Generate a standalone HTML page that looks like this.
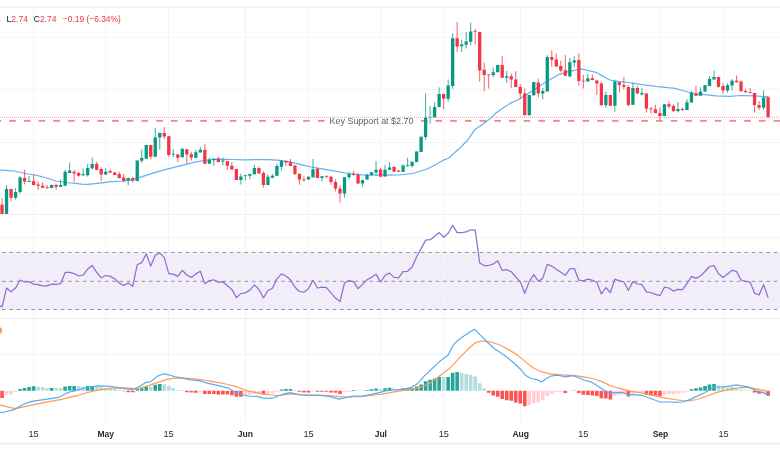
<!DOCTYPE html>
<html><head><meta charset="utf-8"><title>Chart</title>
<style>html,body{margin:0;padding:0;background:#fff;}body{width:780px;height:470px;overflow:hidden;}svg{display:block;}</style>
</head><body>
<svg width="780" height="470" viewBox="0 0 780 470">
<rect width="780" height="470" fill="#fff"/>
<rect x="0" y="252.4" width="780" height="57.1" fill="#f2eef9"/>
<g fill="#f2f4f8">
<rect x="33.1" y="7" width="1" height="415"/>
<rect x="105.2" y="7" width="1" height="415"/>
<rect x="168.1" y="7" width="1" height="415"/>
<rect x="244.9" y="7" width="1" height="415"/>
<rect x="308" y="7" width="1" height="415"/>
<rect x="380.3" y="7" width="1" height="415"/>
<rect x="443.3" y="7" width="1" height="415"/>
<rect x="520.2" y="7" width="1" height="415"/>
<rect x="582.8" y="7" width="1" height="415"/>
<rect x="660" y="7" width="1" height="415"/>
<rect x="723" y="7" width="1" height="415"/>
<rect x="0" y="36.7" width="780" height="1"/>
<rect x="0" y="88.8" width="780" height="1"/>
<rect x="0" y="142" width="780" height="1"/>
<rect x="0" y="194" width="780" height="1"/>
<rect x="0" y="237.1" width="780" height="1"/>
<rect x="0" y="265.6" width="780" height="1"/>
<rect x="0" y="294.8" width="780" height="1"/>
<rect x="0" y="354" width="780" height="1"/>
</g>
<rect x="0" y="6.3" width="780" height="1.5" fill="#eceef2"/>
<rect x="0" y="214" width="780" height="1" fill="#eeedf4"/>
<rect x="0" y="318.1" width="780" height="1" fill="#eeedf4"/>
<rect x="0" y="443.3" width="780" height="1" fill="#e0e3eb"/>
<line x1="0" y1="252.4" x2="780" y2="252.4" stroke="#8c8f99" stroke-width="1" stroke-dasharray="3.5 3.85" stroke-dashoffset="-2"/>
<line x1="0" y1="281.3" x2="780" y2="281.3" stroke="#8c8f99" stroke-width="1" stroke-dasharray="3.5 3.85" stroke-dashoffset="-2"/>
<line x1="0" y1="309.5" x2="780" y2="309.5" stroke="#8c8f99" stroke-width="1" stroke-dasharray="3.5 3.85" stroke-dashoffset="-2"/>
<defs><clipPath id="pp"><rect x="0" y="7" width="780" height="207"/></clipPath></defs>
<g clip-path="url(#pp)">
<line x1="0" y1="120.9" x2="325" y2="120.9" stroke="#f7838e" stroke-width="1.6" stroke-dasharray="6.6 8.1" stroke-dashoffset="5.5"/>
<line x1="416" y1="120.9" x2="780" y2="120.9" stroke="#f7838e" stroke-width="1.6" stroke-dasharray="6.6 8.1" stroke-dashoffset="421.5"/>
<polyline points="0,170 5.6,170.4 14,171 28,174 35,175 42,176.7 49,178.8 56,181 63,182 70,183 74,183.2 81,184.2 88,184.4 95,183.7 102,182.8 109,181.9 116,181.4 123,181 130,180.2 139,177.6 153,173.1 167,169.2 181,165.7 195,162.2 204,160.6 211,159.5 218,159.2 232,159.5 246,159.9 255,159.7 269,159.7 280,160.4 290,161.8 297,163.6 304,165.3 311,167 318,168.1 325,169.4 334,170.9 348,173.5 362,174.9 376,175.1 390,175.1 399,175 413,173.5 427,169 436,164.5 442.8,160.4 448.4,158.3 454,153.3 461,147 468,139.7 475,129.4 482,124.8 489,119.6 496,113 503,107.9 510,103.4 519,99.3 533,90.4 547,81.2 558,74.9 568,71.6 579,69.5 582,69.2 596,72.3 600,74.6 610,80 614,80.8 628,82.5 642,84.6 656,86.4 670,87.8 674,88.1 688,92 695,93.7 702,94.4 716,95.8 730,96.3 740,95.5 754,95.8 768,96.8" fill="none" stroke="#5fb2f5" stroke-width="1.2" stroke-linejoin="round"/>
<path d="M6.56 185.1V214M15.58 188V199.5M20.08 176V193.6M29.09 176V182M51.62 184.5V188.3M60.64 179.5V187M65.14 169.7V186M69.65 162.7V173.2M83.17 168.3V175.5M87.67 163.8V176.7M92.18 157.5V169.7M105.7 167.9V175M128.23 177.5V185.4M137.24 160.3V181.3M141.74 149.5V162.9M146.25 144.8V159M155.26 127.7V157M159.77 132.5V149.5M173.29 149.2V157.3M182.3 148.5V157.5M195.82 149.7V158M200.32 147.1V152.7M209.33 157.4V164M213.84 158.5V165.8M222.85 157.4V165.1M240.88 173.6V184.5M245.38 175V180.6M249.89 173.7V179.2M254.39 164.9V174.5M267.91 174.4V185.2M272.42 174V177.9M276.92 163.6V176M281.43 160.6V170.6M308.47 176.6V179.8M312.97 159V177.5M321.98 176.1V181.5M344.51 177.1V197.6M349.02 171.6V179.6M362.54 179.9V186.4M367.04 173.5V179.8M371.55 172.1V175.3M376.06 161.1V175.4M385.07 165V176.7M389.57 162.3V169.9M403.09 164.1V172M407.6 157.8V166.4M412.1 161.5V167.6M416.61 151.3V162.2M421.12 136.5V152.1M425.62 93.5V139.8M430.13 106.1V123.6M434.63 102.2V117.6M439.14 87.4V107.3M448.15 79.4V101.9M452.66 33.3V88.8M461.67 39.6V51.8M466.18 32.1V48.5M470.68 22.7V45.2M493.21 67.4V77.3M497.72 64.8V72.5M506.73 70.9V82.9M529.26 94.8V116.1M533.77 81.8V95.5M542.78 88V99.5M547.28 55.2V91.6M569.81 58V77.7M574.32 56.2V67.4M587.84 73.7V81.7M605.86 91.6V107.8M614.87 79.7V111.7M632.9 82.5V104.9M641.91 87.8V95.2M664.44 104.1V116.2M677.96 101.9V112.3M686.97 99.1V110.1M691.48 90.9V102.7M700.49 87.4V96M704.99 85.1V91.8M709.5 76.2V86.2M714.01 70.5V79.6M727.52 83.5V92.6M732.03 79V90.6M763.57 90.2V109.9" stroke="#089981" stroke-width="0.8" fill="none"/>
<path d="M4.91 189.1h3.3v24.9h-3.3zM13.93 191.9h3.3v5.9h-3.3zM18.43 177.4h3.3v14.5h-3.3zM27.44 180.9h3.3v1.1h-3.3zM49.97 185.1h3.3v2.9h-3.3zM58.99 185.1h3.3v1.7h-3.3zM63.49 171.8h3.3v14h-3.3zM68 170.5h3.3v2.5h-3.3zM81.52 173.9h3.3v1.4h-3.3zM86.02 167.9h3.3v7.4h-3.3zM90.53 164h3.3v4.3h-3.3zM104.05 171.8h3.3v2.8h-3.3zM126.58 177.9h3.3v2.3h-3.3zM135.59 160.5h3.3v20.6h-3.3zM140.09 158h3.3v2.8h-3.3zM144.6 145h3.3v13.7h-3.3zM153.61 137.6h3.3v19.2h-3.3zM158.12 132.9h3.3v4.7h-3.3zM171.64 153.7h3.3v0.8h-3.3zM180.65 148.8h3.3v8.5h-3.3zM194.17 152.2h3.3v5.6h-3.3zM198.67 149.7h3.3v2.8h-3.3zM207.68 159.8h3.3v3.9h-3.3zM212.19 158.8h3.3v1.4h-3.3zM221.2 160.6h3.3v1h-3.3zM239.23 176.4h3.3v3.5h-3.3zM243.73 175.3h3.3v0.8h-3.3zM248.24 173.9h3.3v1.8h-3.3zM252.74 168h3.3v6.3h-3.3zM266.26 176.8h3.3v8.2h-3.3zM270.77 175.8h3.3v1.9h-3.3zM275.27 166h3.3v9.8h-3.3zM279.78 160.8h3.3v5.9h-3.3zM306.82 176.8h3.3v2.8h-3.3zM311.32 169.2h3.3v8.1h-3.3zM320.33 176.3h3.3v1.7h-3.3zM342.86 177.3h3.3v16.1h-3.3zM347.37 174h3.3v3.3h-3.3zM360.89 180.1h3.3v3.5h-3.3zM365.39 175.1h3.3v4.5h-3.3zM369.9 172.3h3.3v2.8h-3.3zM374.41 169.8h3.3v2.8h-3.3zM383.42 169.8h3.3v6.7h-3.3zM387.92 167.6h3.3v2.1h-3.3zM401.44 165.5h3.3v6.3h-3.3zM405.95 165.3h3.3v0.9h-3.3zM410.45 161.7h3.3v4.3h-3.3zM414.96 151.5h3.3v10.5h-3.3zM419.47 136.7h3.3v15.2h-3.3zM423.97 117.6h3.3v19.4h-3.3zM428.48 117h3.3v0.8h-3.3zM432.98 107.1h3.3v10.3h-3.3zM437.49 94h3.3v13.1h-3.3zM446.5 85.6h3.3v13.1h-3.3zM451.01 38.2h3.3v47.8h-3.3zM460.02 44.5h3.3v1.7h-3.3zM464.53 41.4h3.3v3.4h-3.3zM469.03 31.6h3.3v10.1h-3.3zM491.56 72.3h3.3v2.8h-3.3zM496.07 65h3.3v7.3h-3.3zM505.08 76.3h3.3v1.4h-3.3zM527.61 95h3.3v20h-3.3zM532.12 82h3.3v13.3h-3.3zM541.13 91.1h3.3v2.5h-3.3zM545.63 56.9h3.3v34.5h-3.3zM568.16 62.2h3.3v14.1h-3.3zM572.67 60.4h3.3v2.1h-3.3zM586.19 78.2h3.3v3.3h-3.3zM604.21 95.1h3.3v10.2h-3.3zM613.22 81.8h3.3v23.9h-3.3zM631.25 88.1h3.3v16.6h-3.3zM640.26 93h3.3v1.4h-3.3zM662.79 104.3h3.3v11.7h-3.3zM676.31 108.9h3.3v2h-3.3zM685.32 102.2h3.3v7.7h-3.3zM689.83 93h3.3v9.5h-3.3zM698.84 91.6h3.3v4.2h-3.3zM703.34 85.3h3.3v6.3h-3.3zM707.85 79h3.3v7h-3.3zM712.36 76.9h3.3v2.5h-3.3zM725.87 85.3h3.3v5.3h-3.3zM730.38 80.8h3.3v4.8h-3.3zM761.92 97.6h3.3v10.2h-3.3z" fill="#089981"/>
<path d="M2.06 197.8V214M11.07 189.1V201.3M24.59 169.7V184.4M33.6 174.6V185.5M38.11 181.6V190M42.61 182.3V188M47.12 185V189M56.13 183.7V189.6M74.15 170V181.6M78.66 171.8V176.7M96.68 161.7V170.4M101.19 167.3V180.9M110.2 169.3V173.5M114.71 171.8V175.4M119.21 171.8V178.5M123.72 173.9V182.8M132.73 177V182.5M150.76 144.8V159.4M164.27 127V139M168.78 136V156.8M177.79 154V161.9M186.8 149V163.9M191.31 151.7V160.5M204.83 144.1V164M218.35 156.7V162.3M227.36 161V170M231.86 162V169.6M236.37 168.8V180.1M258.9 166.4V173.7M263.41 171.2V187.5M285.94 160.4V166M290.44 159V166.2M294.95 165.4V175.1M299.45 173.5V184.7M303.96 176.3V181.9M317.48 168.1V178.2M326.49 175.2V178.2M331 175.8V184.7M335.5 179.4V191.3M340.01 185.3V202.6M353.53 170.6V175.8M358.03 172.6V183.8M380.56 168.1V177M394.08 166V172M398.59 169.7V172M443.65 93.8V109.2M457.16 22V51.8M475.19 29V44.5M479.69 31.7V81.8M484.2 62.5V91.3M488.71 74.2V88.5M502.22 56.2V77.9M511.24 73.5V87.8M515.74 71.2V87.3M520.25 84V99.2M524.75 88.3V116.1M538.27 78.7V97.4M551.79 50.5V67M556.3 53.4V66.6M560.8 60.8V72.3M565.31 55.2V76M578.83 53.4V85.7M583.33 75.1V88.5M592.34 74.4V80.3M596.85 80.3V95.1M601.36 81.9V105.5M610.37 94.9V105.9M619.38 82V92.6M623.89 77.1V89.5M628.39 85.3V106.4M637.4 86V93.7M646.42 93.3V112.7M650.92 107.1V113.4M655.43 104.7V113.3M659.93 107.5V120.4M668.95 101.5V108.5M673.45 104.3V111.5M682.46 107.8V110.9M695.98 86V96M718.51 76.7V87.8M723.02 83.2V93.7M736.54 75.5V82.4M741.04 80.4V91.4M745.55 88.8V92.5M750.05 88.1V93.7M754.56 92.8V112.7M759.07 101V109.9M768.08 95.8V117.5" stroke="#f23645" stroke-width="0.8" fill="none"/>
<path d="M0.41 204.8h3.3v9.2h-3.3zM9.42 189.1h3.3v8.7h-3.3zM22.94 178.1h3.3v3.5h-3.3zM31.95 181.2h3.3v3.9h-3.3zM36.46 184.4h3.3v1.4h-3.3zM40.96 185.8h3.3v1.9h-3.3zM45.47 187.3h3.3v0.8h-3.3zM54.48 184.9h3.3v1.9h-3.3zM72.5 171.8h3.3v1.7h-3.3zM77.01 172.9h3.3v2.8h-3.3zM95.03 164h3.3v5.7h-3.3zM99.54 169h3.3v5.6h-3.3zM108.55 171h3.3v1.5h-3.3zM113.06 172.5h3.3v2.4h-3.3zM117.56 173.9h3.3v4.2h-3.3zM122.07 177.4h3.3v3.5h-3.3zM131.08 178.3h3.3v2.4h-3.3zM149.11 145h3.3v11.8h-3.3zM162.62 132.9h3.3v3.7h-3.3zM167.13 136.2h3.3v18.7h-3.3zM176.14 154.4h3.3v3.3h-3.3zM185.15 149.2h3.3v5.2h-3.3zM189.66 154.3h3.3v3.1h-3.3zM203.18 149.7h3.3v14h-3.3zM216.7 158.4h3.3v3.6h-3.3zM225.71 161.2h3.3v4.6h-3.3zM230.21 165.8h3.3v3.6h-3.3zM234.72 169.1h3.3v10.8h-3.3zM257.25 168.1h3.3v5.4h-3.3zM261.76 173h3.3v12h-3.3zM284.29 161.1h3.3v1.4h-3.3zM288.79 162.2h3.3v3.8h-3.3zM293.3 165.6h3.3v8.4h-3.3zM297.8 173.7h3.3v5.7h-3.3zM302.31 179.4h3.3v0.8h-3.3zM315.83 168.8h3.3v9.2h-3.3zM324.84 176.3h3.3v0.8h-3.3zM329.35 176.8h3.3v5.1h-3.3zM333.85 181.9h3.3v6.6h-3.3zM338.36 188.5h3.3v4.9h-3.3zM351.88 173.7h3.3v1.2h-3.3zM356.38 174.9h3.3v8.7h-3.3zM378.91 169.5h3.3v7.3h-3.3zM392.43 166.9h3.3v4.9h-3.3zM396.94 170.7h3.3v1.1h-3.3zM442 94h3.3v4.7h-3.3zM455.51 38.2h3.3v8.4h-3.3zM473.54 31.2h3.3v0.8h-3.3zM478.04 31.9h3.3v38.6h-3.3zM482.55 69.8h3.3v5.2h-3.3zM487.06 74.4h3.3v0.8h-3.3zM500.57 65h3.3v12.7h-3.3zM509.59 76.3h3.3v3.1h-3.3zM514.09 79.6h3.3v7.5h-3.3zM518.6 87.1h3.3v6.5h-3.3zM523.1 93.6h3.3v21.4h-3.3zM536.62 82.4h3.3v11.2h-3.3zM550.14 57.1h3.3v2.6h-3.3zM554.65 59.4h3.3v7h-3.3zM559.15 66h3.3v4.6h-3.3zM563.66 70.2h3.3v5.6h-3.3zM577.18 60h3.3v21h-3.3zM581.68 80.8h3.3v0.8h-3.3zM590.69 78.2h3.3v1.9h-3.3zM595.2 80.5h3.3v3.1h-3.3zM599.71 83.5h3.3v21.8h-3.3zM608.72 95.1h3.3v10.6h-3.3zM617.73 82.2h3.3v2.8h-3.3zM622.24 85h3.3v1.7h-3.3zM626.74 87h3.3v18h-3.3zM635.75 88.1h3.3v5.4h-3.3zM644.77 93.5h3.3v15h-3.3zM649.27 108.5h3.3v0.8h-3.3zM653.78 109.2h3.3v3.9h-3.3zM658.28 113.1h3.3v2.9h-3.3zM667.3 104.3h3.3v2.1h-3.3zM671.8 106.1h3.3v5.2h-3.3zM680.81 108.9h3.3v1h-3.3zM694.33 93.5h3.3v2.3h-3.3zM716.86 76.9h3.3v9.8h-3.3zM721.37 86h3.3v4.6h-3.3zM734.89 80.8h3.3v1.4h-3.3zM739.39 81.4h3.3v9.8h-3.3zM743.9 90.9h3.3v1.4h-3.3zM748.4 92h3.3v0.8h-3.3zM752.91 93h3.3v12h-3.3zM757.42 105h3.3v2.8h-3.3zM766.43 97.2h3.3v20.1h-3.3z" fill="#f23645"/>
<line x1="0" y1="117.3" x2="780" y2="117.3" stroke="#f7a0a8" stroke-width="1" stroke-dasharray="1 1"/>
</g>
<text x="329.6" y="124.2" font-family="Liberation Sans, sans-serif" font-size="9.4" fill="#5d606b" textLength="83.8" lengthAdjust="spacingAndGlyphs">Key Support at $2.70</text>
<polyline points="0,305.7 2.06,307 6.56,288 11.07,291.8 15.58,288 20.08,280.2 24.59,282 29.09,281.6 33.6,284.1 38.11,284.6 42.61,285.8 47.12,285.8 51.62,284.2 56.13,284.4 60.64,283.7 65.14,272.4 69.65,272.4 74.15,273.6 78.66,276 83.17,275 87.67,269 92.18,265.4 96.68,272.4 101.19,277.8 105.7,275.5 110.2,276.4 114.71,278.8 119.21,283 123.72,285.4 128.23,283 132.73,286.3 137.24,264.7 141.74,262.6 146.25,253.8 150.76,266.1 155.26,255.2 159.77,253 164.27,257.6 168.78,273.6 173.29,274.1 177.79,276.4 182.3,270.3 186.8,275 191.31,277.4 195.82,273.9 200.32,271.3 204.83,283.7 209.33,280.6 213.84,279.8 218.35,282.3 222.85,281.7 227.36,285.8 231.86,289.4 236.37,297.5 240.88,293.6 245.38,292.9 249.89,290.1 254.39,284.9 258.9,289.4 263.41,297.8 267.91,290.5 272.42,288.2 276.92,278.8 281.43,273.9 285.94,276 290.44,279.8 294.95,287.2 299.45,291.5 303.96,292.2 308.47,288.7 312.97,280.2 317.48,288 321.98,287.2 326.49,287.7 331,292.9 335.5,298.1 340.01,301.4 344.51,283 349.02,280.6 353.53,281.6 358.03,288.7 362.54,284.4 367.04,279.8 371.55,277.4 376.06,274.1 380.56,282 385.07,275.3 389.57,273.1 394.08,277.4 398.59,277.8 403.09,271.7 407.6,271.3 412.1,267 416.61,256.8 421.12,248.6 425.62,240.1 430.13,239.7 434.63,236.2 439.14,232.6 443.65,237.3 448.15,233.3 452.66,225.2 457.16,232.6 461.67,232.6 466.18,231.9 470.68,229.8 475.19,230.2 479.69,263 484.2,265.5 488.71,265.5 493.21,264.1 497.72,260.8 502.22,270.3 506.73,269.7 511.24,271.7 515.74,277 520.25,281.6 524.75,293.3 529.26,281.6 533.77,274.6 538.27,281.2 542.78,278.4 547.28,264.3 551.79,266.1 556.3,269.3 560.8,272.2 565.31,275.3 569.81,268.9 574.32,268.5 578.83,280.2 583.33,280.9 587.84,279.2 592.34,280.2 596.85,282.3 601.36,293.9 605.86,287.7 610.37,292.5 614.87,279.2 619.38,280.9 623.89,282 628.39,290.5 632.9,281.6 637.4,284 641.91,284.4 646.42,291.9 650.92,292.5 655.43,294.3 659.93,295.7 664.44,287.2 668.95,288 673.45,291.1 677.96,289.4 682.46,289.6 686.97,283.7 691.48,276.4 695.98,278.4 700.49,276 704.99,271.5 709.5,266.5 714.01,265.6 718.51,273.8 723.02,277.5 727.52,274 732.03,270.2 736.54,271.6 741.04,280 745.55,281.4 750.05,282.1 754.56,293.1 759.07,295 763.57,284.6 768.08,297.5" fill="none" stroke="#8f70d2" stroke-width="1.25" stroke-linejoin="round"/>
<path d="M18.28 389.1h3.6v1.6h-3.6zM22.79 387.9h3.6v2.8h-3.6zM27.29 387h3.6v3.7h-3.6zM31.8 386.2h3.6v4.5h-3.6zM49.82 387.9h3.6v2.8h-3.6zM63.34 386.5h3.6v4.2h-3.6zM67.85 385.9h3.6v4.8h-3.6zM72.35 386h3.6v4.7h-3.6zM85.87 386.1h3.6v4.6h-3.6zM90.38 386.1h3.6v4.6h-3.6zM135.44 389.3h3.6v1.4h-3.6zM139.94 388.2h3.6v2.5h-3.6zM144.45 386.8h3.6v3.9h-3.6zM153.46 384.7h3.6v6h-3.6zM157.97 384h3.6v6.7h-3.6zM279.63 389.6h3.6v1.1h-3.6zM284.14 388.9h3.6v1.8h-3.6zM288.64 388.9h3.6v1.8h-3.6zM351.73 389.9h3.6v0.8h-3.6zM365.24 389.9h3.6v0.8h-3.6zM369.75 389.3h3.6v1.4h-3.6zM374.26 388.5h3.6v2.2h-3.6zM383.27 388.2h3.6v2.5h-3.6zM387.77 387.8h3.6v2.9h-3.6zM401.29 388.3h3.6v2.4h-3.6zM405.8 388h3.6v2.7h-3.6zM410.3 387.7h3.6v3h-3.6zM414.81 386.6h3.6v4.1h-3.6zM419.32 384.6h3.6v6.1h-3.6zM423.82 381.2h3.6v9.5h-3.6zM428.33 379.8h3.6v10.9h-3.6zM432.83 378.6h3.6v12.1h-3.6zM437.34 377.1h3.6v13.6h-3.6zM446.35 377.1h3.6v13.6h-3.6zM450.86 372.7h3.6v18h-3.6zM455.36 372h3.6v18.7h-3.6zM689.68 389.3h3.6v1.4h-3.6zM694.18 388.2h3.6v2.5h-3.6zM698.69 387.5h3.6v3.2h-3.6zM703.19 386.1h3.6v4.6h-3.6zM707.7 384.5h3.6v6.2h-3.6zM712.21 384h3.6v6.7h-3.6z" fill="#26a69a"/>
<path d="M36.31 387h3.6v3.7h-3.6zM40.81 387h3.6v3.7h-3.6zM45.32 387.9h3.6v2.8h-3.6zM54.33 388.1h3.6v2.6h-3.6zM58.84 388.1h3.6v2.6h-3.6zM76.86 386h3.6v4.7h-3.6zM81.37 386.8h3.6v3.9h-3.6zM94.88 386.8h3.6v3.9h-3.6zM99.39 387.5h3.6v3.2h-3.6zM103.9 388.2h3.6v2.5h-3.6zM108.4 388.2h3.6v2.5h-3.6zM112.91 388.9h3.6v1.8h-3.6zM117.41 389.9h3.6v0.8h-3.6zM148.96 386.8h3.6v3.9h-3.6zM162.47 384.3h3.6v6.4h-3.6zM166.98 386.1h3.6v4.6h-3.6zM171.49 387.9h3.6v2.8h-3.6zM175.99 389.9h3.6v0.8h-3.6zM180.5 390.2h3.6v0.6h-3.6zM293.15 389.9h3.6v0.8h-3.6zM356.23 390.2h3.6v0.6h-3.6zM360.74 390.2h3.6v0.6h-3.6zM378.76 388.9h3.6v1.8h-3.6zM392.28 388.3h3.6v2.4h-3.6zM396.79 388.9h3.6v1.8h-3.6zM441.85 377.1h3.6v13.6h-3.6zM459.87 372.7h3.6v18h-3.6zM464.38 374h3.6v16.7h-3.6zM468.88 374.7h3.6v16h-3.6zM473.39 376.4h3.6v14.3h-3.6zM477.89 383.2h3.6v7.5h-3.6zM482.4 388.3h3.6v2.4h-3.6zM572.52 390h3.6v0.7h-3.6zM716.71 385.5h3.6v5.2h-3.6zM721.22 386.8h3.6v3.9h-3.6zM725.72 387.4h3.6v3.3h-3.6zM730.23 387h3.6v3.7h-3.6zM734.74 388.7h3.6v2h-3.6zM739.24 389.6h3.6v1.1h-3.6zM743.75 390.2h3.6v0.6h-3.6zM748.25 390.2h3.6v0.6h-3.6z" fill="#b2dfdb"/>
<path d="M0.26 390.7h3.6v7.2h-3.6zM121.92 390.7h3.6v0.6h-3.6zM126.43 390.7h3.6v1.5h-3.6zM130.93 390.7h3.6v1.5h-3.6zM185 390.7h3.6v1.5h-3.6zM189.51 390.7h3.6v1.7h-3.6zM194.02 390.7h3.6v2h-3.6zM203.03 390.7h3.6v3.2h-3.6zM207.53 390.7h3.6v3.4h-3.6zM212.04 390.7h3.6v3.4h-3.6zM216.55 390.7h3.6v3.9h-3.6zM221.05 390.7h3.6v3.9h-3.6zM225.56 390.7h3.6v3.9h-3.6zM230.06 390.7h3.6v4.6h-3.6zM234.57 390.7h3.6v6h-3.6zM239.08 390.7h3.6v6h-3.6zM261.61 390.7h3.6v3.9h-3.6zM297.65 390.7h3.6v1h-3.6zM302.16 390.7h3.6v1.7h-3.6zM306.67 390.7h3.6v1.7h-3.6zM315.68 390.7h3.6v1h-3.6zM320.18 390.7h3.6v1h-3.6zM324.69 390.7h3.6v1h-3.6zM329.2 390.7h3.6v1.7h-3.6zM333.7 390.7h3.6v2h-3.6zM338.21 390.7h3.6v3.2h-3.6zM486.91 390.7h3.6v2.1h-3.6zM491.41 390.7h3.6v4.9h-3.6zM495.92 390.7h3.6v6h-3.6zM500.42 390.7h3.6v8.3h-3.6zM504.93 390.7h3.6v9.5h-3.6zM509.44 390.7h3.6v10h-3.6zM513.94 390.7h3.6v11.7h-3.6zM518.45 390.7h3.6v12.9h-3.6zM522.95 390.7h3.6v15.6h-3.6zM563.51 390.7h3.6v2.3h-3.6zM577.03 390.7h3.6v2.3h-3.6zM581.53 390.7h3.6v4h-3.6zM586.04 390.7h3.6v4.3h-3.6zM590.54 390.7h3.6v4.9h-3.6zM595.05 390.7h3.6v5.4h-3.6zM599.56 390.7h3.6v7.6h-3.6zM604.06 390.7h3.6v7.7h-3.6zM608.57 390.7h3.6v8.8h-3.6zM626.59 390.7h3.6v5.7h-3.6zM644.62 390.7h3.6v3.9h-3.6zM649.12 390.7h3.6v4.6h-3.6zM653.63 390.7h3.6v4.8h-3.6zM658.13 390.7h3.6v5.3h-3.6zM752.76 390.7h3.6v1.8h-3.6zM757.27 390.7h3.6v3.1h-3.6zM766.28 390.7h3.6v5.1h-3.6z" fill="#ff5252"/>
<path d="M4.76 390.7h3.6v4h-3.6zM9.27 390.7h3.6v3.6h-3.6zM13.78 390.7h3.6v1.4h-3.6zM198.52 390.7h3.6v1h-3.6zM243.58 390.7h3.6v5.3h-3.6zM248.09 390.7h3.6v4.6h-3.6zM252.59 390.7h3.6v3.2h-3.6zM257.1 390.7h3.6v2.9h-3.6zM266.11 390.7h3.6v3.2h-3.6zM270.62 390.7h3.6v2.9h-3.6zM275.12 390.7h3.6v1.5h-3.6zM311.17 390.7h3.6v0.8h-3.6zM342.71 390.7h3.6v1.5h-3.6zM347.22 390.7h3.6v1h-3.6zM527.46 390.7h3.6v14.6h-3.6zM531.97 390.7h3.6v12.2h-3.6zM536.47 390.7h3.6v11.7h-3.6zM540.98 390.7h3.6v9.5h-3.6zM545.48 390.7h3.6v5.4h-3.6zM549.99 390.7h3.6v3.2h-3.6zM554.5 390.7h3.6v1.4h-3.6zM559 390.7h3.6v1.4h-3.6zM568.01 390.7h3.6v0.6h-3.6zM613.07 390.7h3.6v5.3h-3.6zM617.58 390.7h3.6v4.6h-3.6zM622.09 390.7h3.6v3.9h-3.6zM631.1 390.7h3.6v3.2h-3.6zM635.6 390.7h3.6v2.4h-3.6zM640.11 390.7h3.6v2h-3.6zM662.64 390.7h3.6v3.9h-3.6zM667.15 390.7h3.6v3.4h-3.6zM671.65 390.7h3.6v3.2h-3.6zM676.16 390.7h3.6v2.9h-3.6zM680.66 390.7h3.6v2h-3.6zM685.17 390.7h3.6v0.8h-3.6zM761.77 390.7h3.6v2.7h-3.6z" fill="#ffcdd2"/>
<polyline points="0,405.1 6.4,406.7 13.8,408.3 18.1,408.1 26.6,406.2 35.1,404.3 44.7,402.4 53.2,400.9 61.7,399.3 69.1,397.4 78.5,395.3 87,392.7 95.4,390.7 103.9,389.2 112.3,388.2 120.8,387.9 129.2,388.2 134.9,388.6 140.5,387.9 149,385.4 157.4,382.6 165.9,379.7 173,378.3 183.5,378 191.9,378.6 203.2,380 214.5,381.9 225.8,384 237.1,386.8 245.5,390.3 254,392.2 262.4,393.9 270.9,395 279.4,395.5 291.3,393.9 301.2,394.6 315.3,395 329.4,395.5 339.2,396.7 347.7,397 359,396.7 370.3,395.5 381.6,394.1 390,392.7 402,390.6 419.1,387.7 429.3,383.7 439.5,376.1 449.7,368.4 459.9,357.4 468.4,348.8 475.2,342.9 480.4,341.2 485.5,341.2 490.6,342 498.5,344.5 507,348.7 515.5,353.8 524.1,360.6 532.6,367.5 541.1,371.7 549.6,373.9 558.1,374.6 566.6,375.1 575.1,375.6 583.6,376.8 592.2,378.5 600,380.8 609.1,385.1 616.2,387.5 623.2,389.3 631.7,391.3 640.1,392.7 648.6,394.6 657.1,396.4 665.5,398.1 674,399.5 682.4,400.6 688.1,400.9 696.6,399.5 703,397.5 707.7,395.7 715.3,392.9 723,390.9 730.6,389.3 738.3,387.8 744.6,387.4 751,387.8 757.4,389.1 763.8,390.4 768.9,391.6" fill="none" stroke="#ff9a55" stroke-width="1.2" stroke-linejoin="round"/>
<polyline points="0,412 2.1,412.8 8,411 13.8,409.9 18.1,407.2 24.5,403.8 31.9,401.4 38.3,400.3 45.7,399.3 53.2,398.2 59.6,397.1 66,393.4 72.3,391.3 78.5,389.9 87,387.5 96.8,385.8 106.7,386.1 112.3,386.5 119.4,387.9 126.4,388.9 132,389.6 137.7,387.5 146.2,382.3 150.4,381.9 157.4,376.2 163.8,373.7 168.7,374.8 174.4,376.6 182,378 189.1,379.7 200.4,380.9 206,382.8 217.3,385.4 228.6,388.2 235.6,392.4 242.7,395 248.3,396 256.8,396.4 262.4,397.8 268.1,398.4 273.7,397.8 279.4,395.5 285,393.6 289.9,392.7 298.3,394.6 308.2,395.5 319.5,395.3 329.4,396.4 339.2,399.2 346.3,397.4 353.3,396 361.8,396.4 370.3,394.6 378.7,392.7 388,390.3 393.5,390 402,389.4 410.5,387.7 417.4,383.7 424.2,376.1 431,369.6 439.5,361.6 448,355.3 453.1,345.4 458.2,340 465,335.2 470.1,331.8 474.9,329.3 480.4,335.2 487.2,342 494,348.5 503.6,354.7 512.1,361.5 520.6,369.2 525.8,375.6 530.9,378.5 536,379.4 541.9,381.9 546.2,378.5 551.3,376 558.1,375.1 564.9,376.8 573.4,375.6 578.5,377.7 583.6,379.7 592.2,382.4 597,385.5 602,388.9 609.1,393.1 616.2,392.7 623.2,392.7 628.1,394.6 634.5,394.6 641.5,395.3 651.4,398.8 659.9,402 668.3,402 676.8,402.3 682.4,402 688.1,400.2 696.6,396.4 705.1,392.5 710.2,389.3 715.3,387 723,386.8 729.3,386.1 736.4,384.9 742.1,385.8 748.5,386.8 753.6,389.6 758.7,391.9 763.8,392.9 768.2,395.1" fill="none" stroke="#55acf4" stroke-width="1.2" stroke-linejoin="round"/>
<circle cx="-1.5" cy="330.4" r="3.6" fill="#ff9a55"/>
<text x="1" y="21.7" font-family="Liberation Sans, sans-serif" font-size="9.2" fill="#f23645" text-anchor="end">2.94</text>
<text x="6.5" y="21.7" font-family="Liberation Sans, sans-serif" font-size="9.2" textLength="21.5" lengthAdjust="spacingAndGlyphs"><tspan fill="#131722">L</tspan><tspan fill="#f23645">2.74</tspan></text>
<text x="33.8" y="21.7" font-family="Liberation Sans, sans-serif" font-size="9.2" textLength="22.7" lengthAdjust="spacingAndGlyphs"><tspan fill="#131722">C</tspan><tspan fill="#f23645">2.74</tspan></text>
<text x="62.8" y="21.7" font-family="Liberation Sans, sans-serif" font-size="9.2" fill="#f23645" textLength="58" lengthAdjust="spacingAndGlyphs">−0.19 (−6.34%)</text>
<g font-family="Liberation Sans, sans-serif" font-size="9.2" fill="#262a35" text-anchor="middle">
<text transform="translate(33.6 436.7) scale(1.0 1.08)">15</text>
<text transform="translate(105.7 436.7) scale(0.93 1.08)" font-weight="bold">May</text>
<text transform="translate(168.6 436.7) scale(1.0 1.08)">15</text>
<text transform="translate(245.4 436.7) scale(0.93 1.08)" font-weight="bold">Jun</text>
<text transform="translate(308.5 436.7) scale(1.0 1.08)">15</text>
<text transform="translate(380.8 436.7) scale(0.93 1.08)" font-weight="bold">Jul</text>
<text transform="translate(443.8 436.7) scale(1.0 1.08)">15</text>
<text transform="translate(520.7 436.7) scale(0.93 1.08)" font-weight="bold">Aug</text>
<text transform="translate(583.3 436.7) scale(1.0 1.08)">15</text>
<text transform="translate(660.5 436.7) scale(0.93 1.08)" font-weight="bold">Sep</text>
<text transform="translate(723.5 436.7) scale(1.0 1.08)">15</text>
</g>
</svg>
</body></html>
